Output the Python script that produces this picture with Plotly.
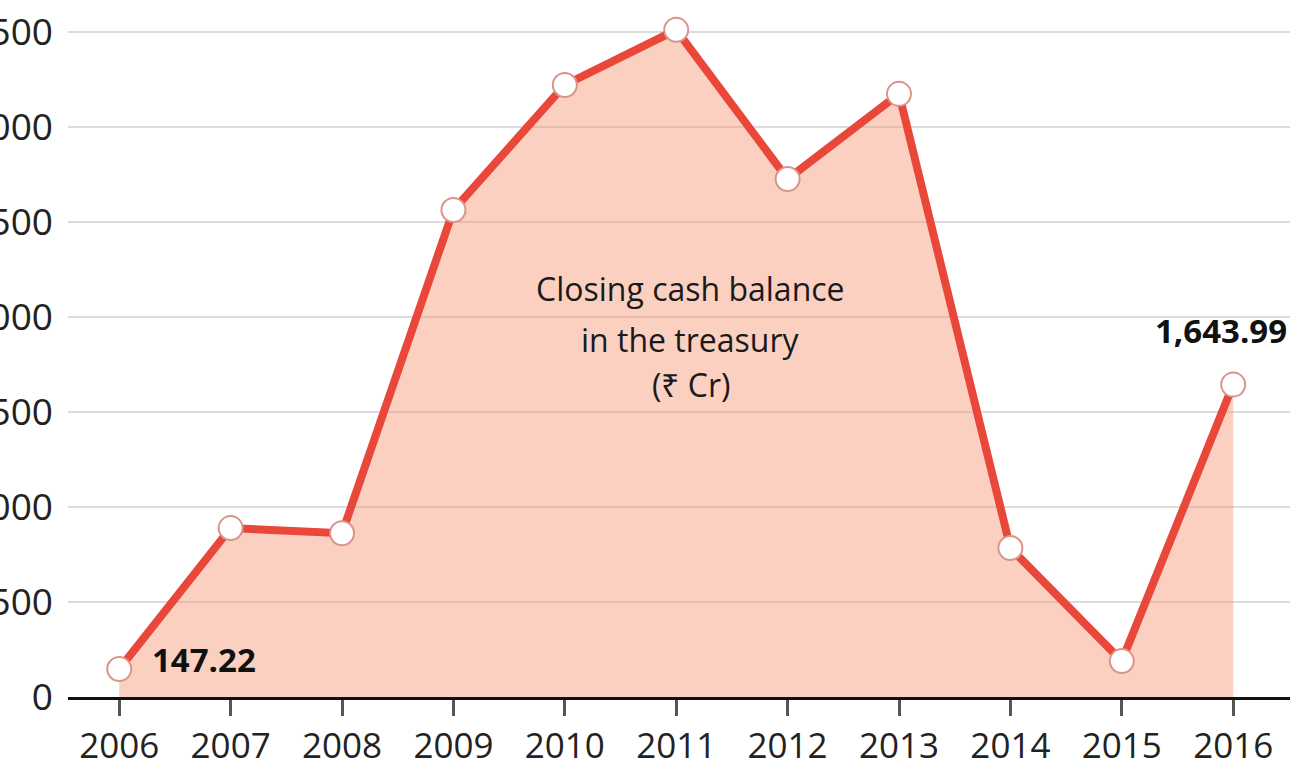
import plotly.graph_objects as go

years = [2006, 2007, 2008, 2009, 2010, 2011, 2012, 2013, 2014, 2015, 2016]
balance = [147.22, 889, 862, 2563, 3221, 3511, 2726, 3174, 784, 189, 1643.99]
y_ticks = [0, 500, 1000, 1500, 2000, 2500, 3000, 3500]
y_labels = ["0", "500", "1,000", "1,500", "2,000", "2,500", "3,000", "3,500"]
title_lines = ["Closing cash balance", "in the treasury", "(₹ Cr)"]

FONT = "Open Sans, sans-serif"

fig = go.Figure()
fig.add_trace(go.Scatter(
    x=years, y=balance, mode="lines+markers",
    fill="tozeroy", fillcolor="rgba(246,150,118,0.45)",
    line=dict(color="#e8473a", width=8),
    marker=dict(size=24, color="white", line=dict(color="#d9958a", width=2)),
    cliponaxis=False, hoverinfo="x+y",
))

fig.add_annotation(x=years[0], y=balance[0], text="<b>147.22</b>", showarrow=False,
                   xanchor="left", yanchor="middle", xshift=31, yshift=10,
                   font=dict(family=FONT, size=33, color="#111"))
fig.add_annotation(x=years[-1], y=balance[-1], text="<b>1,643.99</b>", showarrow=False,
                   xanchor="center", yanchor="bottom", xshift=-12, yshift=30,
                   font=dict(family=FONT, size=33, color="#111"))

for line, yv in zip(title_lines, [2152, 1879, 1642]):
    fig.add_annotation(x=2011.13, y=yv, text=line, showarrow=False,
                       xanchor="center", yanchor="middle",
                       font=dict(family=FONT, size=32, color="#1a1a1a"))

fig.update_layout(
    width=1306, height=778,
    margin=dict(l=68, r=16, t=0, b=81),
    paper_bgcolor="white", plot_bgcolor="white",
    showlegend=False,
    font=dict(family=FONT, color="#222"),
)
fig.update_xaxes(
    range=[2005.54, 2016.51], tickvals=years, ticktext=[str(y) for y in years],
    showgrid=False, showline=True, linecolor="#111", linewidth=3,
    ticks="outside", ticklen=16, tickwidth=3, tickcolor="#555",
    tickfont=dict(family=FONT, size=35, color="#222"), zeroline=False,
)
fig.update_yaxes(
    range=[0, 3668], tickvals=y_ticks, ticktext=y_labels,
    showgrid=True, gridcolor="#dcdcdc", gridwidth=2,
    showline=False, zeroline=False, ticks="",
    ticklabelstandoff=14, automargin=False,
    tickfont=dict(family=FONT, size=37, color="#222"),
)

fig.write_html("out.html")
